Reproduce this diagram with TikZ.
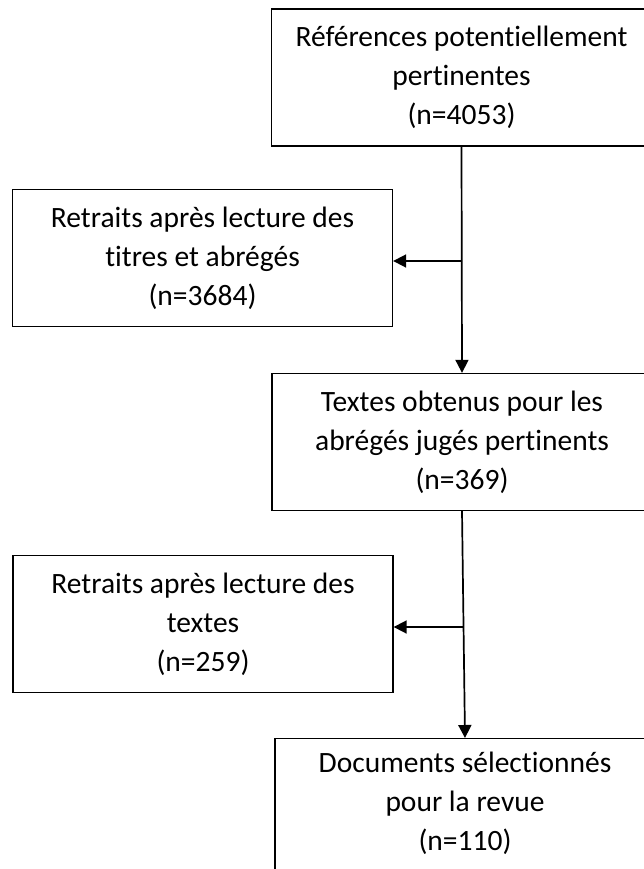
\documentclass[tikz,border=0pt]{standalone}
\usepackage{fontspec}
\setmainfont[Ligatures=NoCommon]{Carlito}
\usetikzlibrary{arrows.meta,calc}
\begin{document}
\begin{tikzpicture}[x=1pt,y=1pt,
  box/.style={draw=black,line width=1.3pt,minimum width=380pt,minimum height=137pt,
    align=center,inner sep=0pt,font=\fontsize{29.5}{39}\selectfont},
  arr/.style={line width=1.7pt,-{Triangle[length=13pt,width=13pt]}}]
\useasboundingbox (0,0) rectangle (644,-869);
\clip (0,0) rectangle (644,-869);
\node[box] (b1) at (461.5,-77.5) {Références potentiellement\\pertinentes\\(n=4053)};
\node[box] (b2) at (202.5,-258) {Retraits après lecture des\\titres et abrégés\\(n=3684)};
\node[box] (b3) at (462,-442) {Textes obtenus pour les\\abrégés jugés pertinents\\(n=369)};
\node[box] (b4) at (203,-624) {Retraits après lecture des\\textes\\(n=259)};
\node[box,anchor=north] (b5) at (465,-738) {};
\node[align=center,font=\fontsize{29.5}{39}\selectfont,anchor=north] (t5) at (465,-748) {Documents sélectionnés\\pour la revue\\(n=110)};
\draw[arr] (b1.south) -- (b3.north);
\coordinate (j1) at (462,-261);
\draw[arr] (j1) -- (j1 -| b2.east);
\draw[arr] (b3.south) -- (b5.north);
\coordinate (j2) at (463.5,-627);
\draw[arr] (j2) -- (j2 -| b4.east);
\end{tikzpicture}
\end{document}
